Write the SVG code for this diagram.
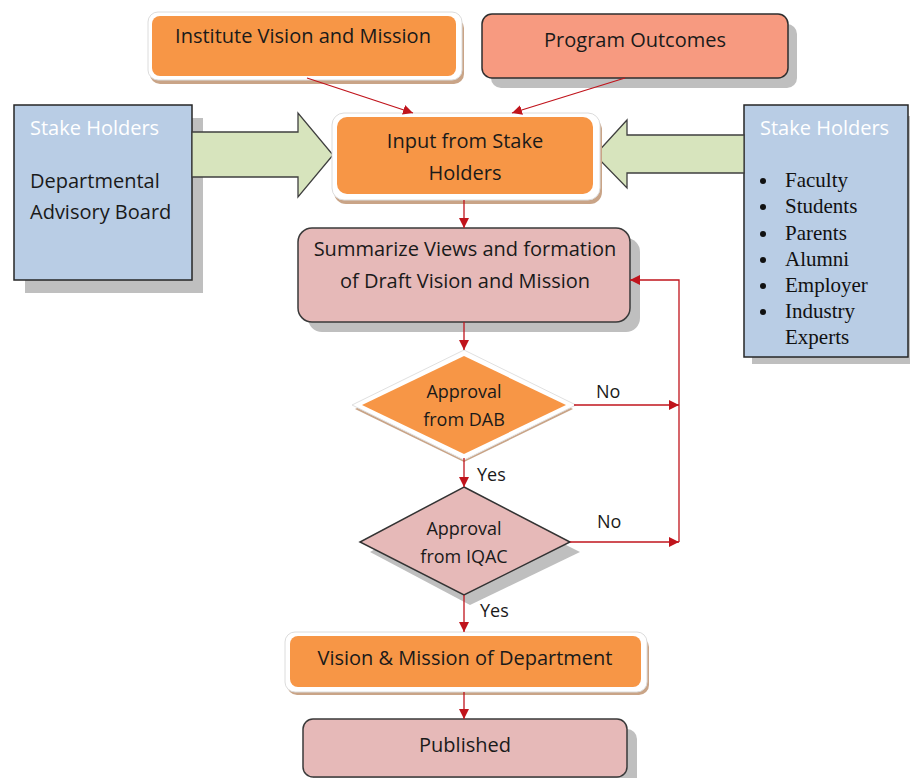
<svg xmlns="http://www.w3.org/2000/svg" width="910" height="778" viewBox="0 0 910 778">
  <style>
    .sans { font-family: "Open Sans", "Liberation Sans", sans-serif; fill: #1a1a1a; }
    .serif { font-family: "Liberation Serif", serif; fill: #111; font-size: 21px; }
    .shadow { fill: #bfbfbf; }
    .tan { fill: #c9a487; }
    .glow { fill: #ffffff; stroke: #dcdcdc; stroke-width: 1; }
    .orange { fill: #f79646; }
    .pink { fill: #e6b9b8; stroke: #3a3a3a; stroke-width: 1.5; }
    .blue { fill: #b9cde5; stroke: #262626; stroke-width: 1.5; }
    .green { fill: #d7e4bd; stroke: #3f3f3f; stroke-width: 1.3; }
    .head { fill: #ffffff; font-size: 20px; }
    .conn { stroke: #c0141c; stroke-width: 1.3; fill: none; marker-end: url(#arr); }
    .lbl { font-size: 18px; }
  </style>
  <defs>
    <marker id="arr" viewBox="0 0 10 10" refX="10" refY="5" markerWidth="10" markerHeight="10" markerUnits="userSpaceOnUse" orient="auto">
      <path d="M0,0 L10,5 L0,10 z" fill="#c0141c"/>
    </marker>
  </defs>

  <rect width="910" height="778" fill="#ffffff"/>

  <!-- Institute Vision and Mission -->
  <g id="institute">
    <rect class="tan" x="150" y="18" width="314" height="66" rx="10"/>
    <rect class="glow" x="148" y="12" width="314" height="68" rx="10"/>
    <rect class="orange" x="152" y="16" width="304" height="60" rx="8"/>
    <text class="sans" x="303" y="43" font-size="20" text-anchor="middle">Institute Vision and Mission</text>
  </g>

  <!-- Program Outcomes -->
  <g id="outcomes">
    <rect class="shadow" x="491" y="24" width="306" height="64" rx="10"/>
    <rect x="482" y="14" width="306" height="64" rx="10" fill="#f79a80" stroke="#2e2e2e" stroke-width="1.5"/>
    <text class="sans" x="635" y="47" font-size="20" text-anchor="middle">Program Outcomes</text>
  </g>

  <!-- Left stakeholder block -->
  <g id="stake-left">
    <rect class="shadow" x="25" y="118" width="178" height="175"/>
    <rect class="blue" x="14" y="105" width="178" height="175"/>
    <text class="sans head" x="30" y="135">Stake Holders</text>
    <text class="sans" x="30" y="188" font-size="20">Departmental</text>
    <text class="sans" x="30" y="219" font-size="20">Advisory Board</text>
  </g>

  <!-- Right stakeholder block -->
  <g id="stake-right">
    <rect class="shadow" x="752" y="116" width="170" height="248"/>
    <rect class="blue" x="744" y="105" width="164" height="252"/>
    <text class="sans head" x="760" y="135">Stake Holders</text>
    <g class="serif">
      <circle cx="763" cy="181" r="3" fill="#111"/>
      <text x="785" y="187">Faculty</text>
      <circle cx="763" cy="207" r="3" fill="#111"/>
      <text x="785" y="213">Students</text>
      <circle cx="763" cy="234" r="3" fill="#111"/>
      <text x="785" y="240">Parents</text>
      <circle cx="763" cy="260" r="3" fill="#111"/>
      <text x="785" y="266">Alumni</text>
      <circle cx="763" cy="286" r="3" fill="#111"/>
      <text x="785" y="292">Employer</text>
      <circle cx="763" cy="312" r="3" fill="#111"/>
      <text x="785" y="318">Industry</text>
      <text x="785" y="344">Experts</text>
    </g>
  </g>

  <!-- Block arrows feeding the input box -->
  <g id="arrow-left">
    <path class="green" d="M192,132 L298,132 L298,113 L333,155 L298,197 L298,177 L192,177 Z"/>
  </g>
  <g id="arrow-right">
    <path class="green" d="M744,135 L627,135 L627,120 L595,155 L627,188 L627,173 L744,173 Z"/>
  </g>

  <!-- Input from Stake Holders -->
  <g id="input">
    <rect class="tan" x="334" y="118" width="268" height="86" rx="12"/>
    <rect class="glow" x="332" y="113" width="268" height="87" rx="12"/>
    <rect class="orange" x="337" y="117" width="256" height="77" rx="10"/>
    <text class="sans" x="465" y="148" font-size="20" text-anchor="middle">Input from Stake</text>
    <text class="sans" x="465" y="180" font-size="20" text-anchor="middle">Holders</text>
  </g>

  <!-- Summarize views -->
  <g id="summarize">
    <rect class="shadow" x="308" y="238" width="332" height="94" rx="14"/>
    <rect class="pink" x="298" y="228" width="332" height="94" rx="14"/>
    <text class="sans" x="465" y="256" font-size="20" text-anchor="middle">Summarize Views and formation</text>
    <text class="sans" x="465" y="288" font-size="20" text-anchor="middle">of Draft Vision and Mission</text>
  </g>

  <!-- Decision: DAB -->
  <g id="dab">
    <polygon class="tan" points="464,357 573,409 464,462 355,409"/>
    <polygon points="464,350 576,405 464,460 352,405" fill="#ffffff" stroke="#e0e0e0" stroke-width="1"/>
    <polygon class="orange" points="464,356 566,405 464,454 362,405"/>
    <text class="sans" x="464" y="398" font-size="18" text-anchor="middle">Approval</text>
    <text class="sans" x="464" y="426" font-size="18" text-anchor="middle">from DAB</text>
  </g>

  <!-- Decision: IQAC -->
  <g id="iqac">
    <polygon class="shadow" points="470,497 580,552 470,605 370,552"/>
    <polygon points="464,487 570,542 464,595 360,542" fill="#e6b9b8" stroke="#333" stroke-width="1.5"/>
    <text class="sans" x="464" y="535" font-size="18" text-anchor="middle">Approval</text>
    <text class="sans" x="464" y="563" font-size="18" text-anchor="middle">from IQAC</text>
  </g>

  <!-- Vision & Mission of Department -->
  <g id="vision">
    <rect class="tan" x="287" y="637" width="362" height="58" rx="10"/>
    <rect class="glow" x="285" y="632" width="362" height="60" rx="10"/>
    <rect class="orange" x="290" y="636" width="351" height="51" rx="8"/>
    <text class="sans" x="465" y="665" font-size="20" text-anchor="middle">Vision &amp; Mission of Department</text>
  </g>

  <!-- Published -->
  <g id="published">
    <rect class="shadow" x="313" y="729" width="324" height="58" rx="10"/>
    <rect class="pink" x="303" y="719" width="324" height="58" rx="10"/>
    <text class="sans" x="465" y="752" font-size="20" text-anchor="middle">Published</text>
  </g>

  <!-- Connectors -->
  <g id="connectors">
    <line class="conn" x1="307" y1="78" x2="413" y2="113"/>
    <line class="conn" x1="625" y1="78" x2="512" y2="113"/>
    <line class="conn" x1="464" y1="200" x2="464" y2="228"/>
    <line class="conn" x1="464" y1="322" x2="464" y2="350"/>
    <line class="conn" x1="464" y1="458" x2="464" y2="487"/>
    <line class="conn" x1="464" y1="595" x2="464" y2="632"/>
    <line class="conn" x1="464" y1="692" x2="464" y2="719"/>
    <line class="conn" x1="574" y1="405" x2="679" y2="405"/>
    <line class="conn" x1="570" y1="542" x2="679" y2="542"/>
    <polyline class="conn" points="679,542 679,280 630,280"/>
  </g>

  <!-- Branch labels -->
  <g id="labels" class="sans lbl">
    <text x="596" y="398">No</text>
    <text x="477" y="481">Yes</text>
    <text x="597" y="528">No</text>
    <text x="480" y="617">Yes</text>
  </g>
</svg>
